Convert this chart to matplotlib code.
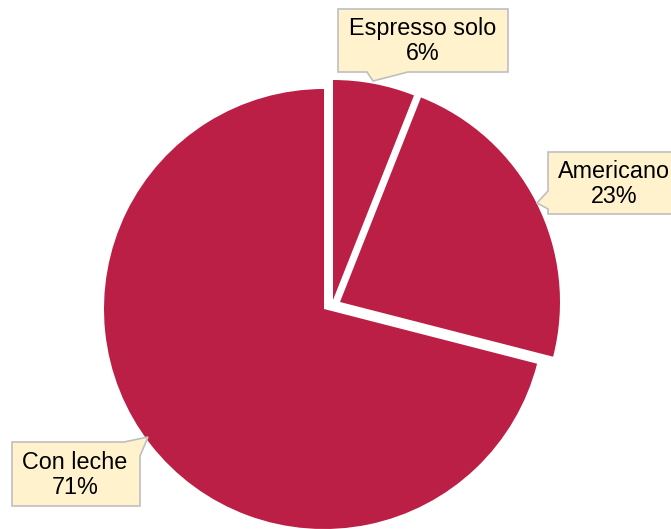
import matplotlib.pyplot as plt
from matplotlib.patches import Polygon

plt.rcParams['font.family'] = ['Liberation Sans', 'DejaVu Sans']

# Datos
categories = ['Espresso solo', 'Americano', 'Con leche']
values = [6, 23, 71]

W, H = 671, 529
slice_color = '#BC1F45'


def px(x, y):
    # pixel (y hacia abajo) -> datos (y hacia arriba)
    return (x, H - y)


fig = plt.figure(figsize=(W / 100, H / 100), dpi=100)
ax = fig.add_axes([0, 0, 1, 1])

base = px(324, 309)
radius = 220
wedges, _ = ax.pie(values, colors=[slice_color] * 3, startangle=90,
                   counterclock=False, center=base, radius=radius,
                   frame=True)
ax.set_xlim(0, W)
ax.set_ylim(0, H)
ax.set_aspect('equal')
ax.axis('off')

# desplazamiento de las porciones separadas (px)
offsets = [(9, -9), (16, -7), (0, 0)]
for w, (dx, dy) in zip(wedges, offsets):
    w.set_center((base[0] + dx, base[1] - dy))

# cuadros de etiquetas con puntero
callouts = [
    [(338, 9), (508, 9), (508, 72), (408, 72), (373, 81), (367, 72), (338, 72)],
    [(548, 152), (685, 152), (685, 214), (548, 214), (548, 209), (537, 203), (548, 191)],
    [(12, 442), (124, 442), (148, 437), (140, 456), (140, 506), (12, 506)],
]
text_pos = [(423, 41), (614, 184), (75, 475)]

total = sum(values)
for cat, val, verts, (tx, ty) in zip(categories, values, callouts, text_pos):
    poly = Polygon([px(x, y) for x, y in verts], closed=True,
                   facecolor='#FFF2CC', edgecolor='#BFBFBF', linewidth=1.2,
                   zorder=3)
    ax.add_patch(poly)
    ax.text(*px(tx, ty), f"{cat}\n{round(val / total * 100)}%",
            ha='center', va='center', fontsize=16.8, color='black',
            linespacing=1.15, zorder=4)

fig.savefig('out.png', dpi=100)
